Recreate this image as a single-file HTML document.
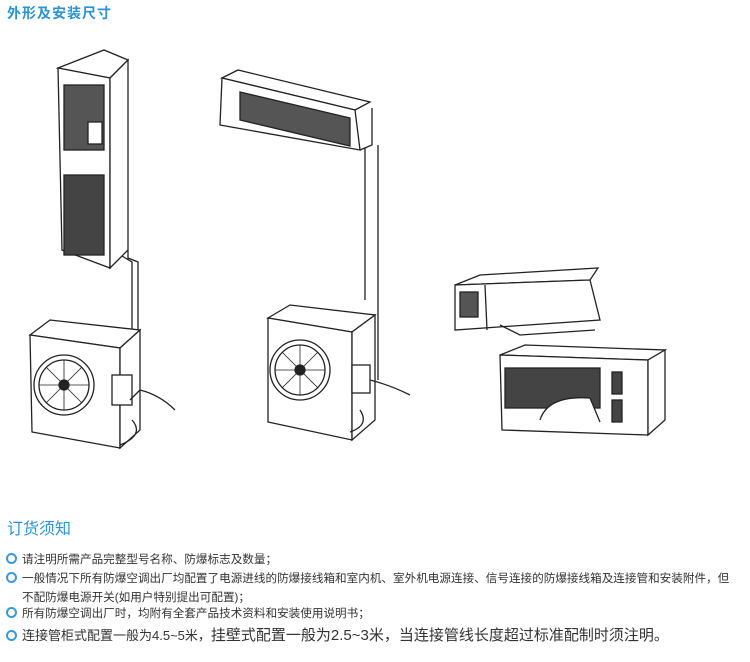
<!DOCTYPE html>
<html><head><meta charset="utf-8"><style>
body{margin:0;background:#fff;width:750px;height:662px;overflow:hidden;position:relative;font-family:"Liberation Sans","Noto Sans CJK SC",sans-serif}
.h{position:absolute;color:#2a93d5;font-weight:bold}
.b{position:absolute;left:6px;font-size:11.6px;color:#333;white-space:nowrap}
.b i{display:inline-block;width:7px;height:7px;border:2px solid #3a9ad9;border-radius:50%;margin-right:5px;vertical-align:-1px}
svg{position:absolute;left:0;top:0}
</style></head><body>
<div class="h" style="left:7px;top:3px;font-size:14px;letter-spacing:1px">外形及安装尺寸</div>
<svg width="750" height="500" fill="none" stroke="#222" stroke-width="1.3">
<polygon points="58,68 104,50 128,60 110,78" fill="#fff"/>
<polygon points="58,68 110,78 110,268 62,250" fill="#fff"/>
<polygon points="110,78 128,60 128,250 110,268" fill="#fff"/>
<rect x="64" y="85" width="40" height="65" fill="#555" stroke="#222"/>
<rect x="88" y="122" width="14" height="22" fill="#fff"/>
<rect x="64" y="175" width="40" height="80" fill="#444"/>
<path d="M128,250 L128,258 L138,262 L138,390 M122,256 L132,262 L132,390"/>
<polygon points="30,335 50,320 140,330 120,348" fill="#fff"/>
<polygon points="30,335 120,348 120,448 32,432" fill="#fff"/>
<polygon points="120,348 140,330 140,430 120,448" fill="#fff"/>
<circle cx="64" cy="385" r="30" fill="#fff"/><circle cx="64" cy="385" r="25"/><circle cx="64" cy="385" r="5" fill="#222"/>
<path d="M64,360 L64,410 M39,385 L89,385 M46,367 L82,403 M82,367 L46,403" stroke-width=".8"/>
<rect x="112" y="375" width="20" height="30" fill="#fff"/>
<path d="M130,400 L140,390 Q160,395 175,410 M132,420 Q145,435 120,445"/>
<polygon points="222,78 238,70 370,102 355,110" fill="#fff"/>
<polygon points="222,78 355,110 360,150 220,125" fill="#fff"/>
<polygon points="240,92 350,118 350,146 240,120" fill="#555"/>
<path d="M360,150 L372,145 L372,108 M365,148 L365,300 M378,145 L378,310 L378,380"/>
<polygon points="268,318 290,305 375,315 352,332" fill="#fff"/>
<polygon points="268,318 352,332 352,440 268,422" fill="#fff"/>
<polygon points="352,332 375,315 375,420 352,440" fill="#fff"/>
<circle cx="300" cy="370" r="30" fill="#fff"/><circle cx="300" cy="370" r="25"/><circle cx="300" cy="370" r="5" fill="#222"/>
<path d="M300,345 L300,395 M275,370 L325,370 M282,352 L318,388 M318,352 L282,388" stroke-width=".8"/>
<rect x="352" y="365" width="18" height="28" fill="#fff"/>
<path d="M370,380 Q390,385 410,395 M360,410 Q370,425 350,432"/>
<polygon points="455,285 480,275 598,268 590,280" fill="#fff"/>
<polygon points="455,285 590,280 600,320 455,330" fill="#fff"/>
<path d="M485,285 L487,330 M500,325 L520,335 L595,330"/>
<rect x="460" y="292" width="18" height="25" fill="#555"/>
<polygon points="500,355 525,345 665,350 648,360" fill="#fff"/>
<polygon points="500,355 648,360 648,435 502,430" fill="#fff"/>
<polygon points="648,360 665,350 665,420 648,435" fill="#fff"/>
<rect x="505" y="368" width="95" height="40" fill="#444"/>
<path d="M540,420 Q548,395 590,398 L600,422" fill="#fff"/>
<rect x="612" y="372" width="10" height="22" fill="#444"/><rect x="612" y="400" width="10" height="22" fill="#444"/>
</svg>
<div class="h" style="left:7px;top:515px;font-size:16px;font-weight:normal">订货须知</div>
<div class="b" style="top:551px"><i></i>请注明所需产品完整型号名称、防爆标志及数量；</div>
<div class="b" style="top:570px"><i></i>一般情况下所有防爆空调出厂均配置了电源进线的防爆接线箱和室内机、室外机电源连接、信号连接的防爆接线箱及连接管和安装附件，但</div>
<div class="b" style="top:589px;left:22px">不配防爆电源开关(如用户特别提出可配置)；</div>
<div class="b" style="top:605px"><i></i>所有防爆空调出厂时，均附有全套产品技术资料和安装使用说明书；</div>
<div class="b" style="top:624px;font-size:13px"><i></i>连接管柜式配置一般为4.5~5米，<span style="font-size:15px">挂壁式配置一般为2.5~3米，当连接管线长度超过标准配制时须注明。</span></div>
</body></html>
